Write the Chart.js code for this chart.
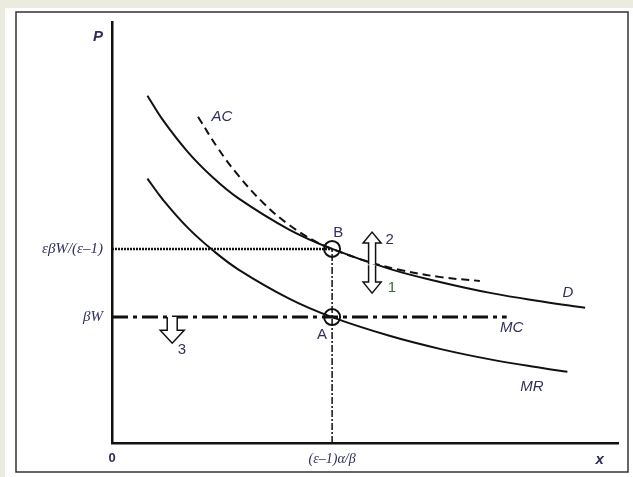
<!DOCTYPE html>
<html lang="en">
<head>
    <meta charset="UTF-8">
    <title>Monopolistic competition</title>
    <script src="https://cdn.jsdelivr.net/npm/chart.js"></script>
    <style>
        body { margin: 0; background: #ebebdf; }
        #wrap { width: 633px; height: 477px; }
    </style>
</head>
<body>
    <div id="wrap">
        <canvas id="chart" width="633" height="477"></canvas>
    </div>

    <script>
        // curves (x 0..100, P 0..100)
        const demandX = [7, 10, 15, 20, 25, 35, 43.5, 55, 65, 75, 85, 93.5];
        const demandY = [82.5, 76.8, 69.1, 63.0, 58.1, 50.7, 46.1, 41.3, 38.2, 35.6, 33.6, 32.1];

        const mrX = [7, 10, 15, 20, 25, 35, 43.5, 55, 65, 75, 85, 90];
        const mrY = [62.8, 57.9, 51.1, 45.7, 41.2, 34.3, 29.9, 25.4, 22.3, 19.8, 17.8, 16.9];

        const acX = [17, 21, 25, 30, 35, 40, 43.5, 50, 57, 65, 72.7];
        const acY = [77.5, 69.9, 63.5, 56.9, 51.8, 48.0, 46.1, 43.3, 41.1, 39.4, 38.5];

        const mcLevel = 29.9;     // βW
        const mcEnd = 78;
        const priceLevel = 46.1;  // εβW/(ε-1)
        const xStar = 43.5;       // (ε-1)α/β

        const xTickVals = [0, xStar, 96.4];
        const xTickLabels = ['0', '(ε\u20131)α/β', 'x'];
        const yTickVals = [mcLevel, priceLevel, 96.4];
        const yTickLabels = ['βW', 'εβW/(ε\u20131)', 'P'];

        // hollow arrows: x, from, to
        const arrowX = [51.4, 51.4, 11.9];
        const arrowFrom = [42.4, 42.2, 29.9];
        const arrowTo = [50.1, 35.6, 23.7];

        const noteText = ['AC', 'B', 'A', '2', '1', '3', 'D', 'MC', 'MR'];
        const noteX = [21.7, 44.7, 41.5, 54.9, 55.3, 13.8, 90.1, 79.0, 83.0];
        const noteY = [77.4, 49.9, 25.6, 48.2, 36.8, 22.1, 35.6, 27.3, 13.3];

        const ink = '#2f2f5c';
        const pts = (xs, ys) => xs.map((x, i) => ({ x: x, y: ys[i] }));

        const frame = {
            id: 'frame',
            beforeDraw(chart) {
                const c = chart.ctx;
                c.save();
                c.fillStyle = '#ebebdf';
                c.fillRect(0, 0, 633, 477);
                c.fillStyle = '#ffffff';
                c.fillRect(5, 8, 628, 469);
                c.strokeStyle = '#333';
                c.lineWidth = 1.5;
                c.strokeRect(16, 12, 612, 460);
                c.restore();
            }
        };

        const arrows = {
            id: 'arrows',
            afterDatasetsDraw(chart) {
                const c = chart.ctx, xs = chart.scales.x, ys = chart.scales.y;
                c.save();
                c.lineWidth = 1.5;
                c.strokeStyle = '#111';
                c.fillStyle = '#fff';
                arrowX.forEach((ax, i) => {
                    const px = xs.getPixelForValue(ax);
                    const y0 = ys.getPixelForValue(arrowFrom[i]);
                    const y1 = ys.getPixelForValue(arrowTo[i]);
                    const d = y1 > y0 ? 1 : -1;
                    const sw = i === 2 ? 5 : 3.5, hw = i === 2 ? 12 : 9, hl = i === 2 ? 13 : 11;
                    c.beginPath();
                    c.moveTo(px - sw, y0);
                    c.lineTo(px - sw, y1 - d * hl);
                    c.lineTo(px - hw, y1 - d * hl);
                    c.lineTo(px, y1);
                    c.lineTo(px + hw, y1 - d * hl);
                    c.lineTo(px + sw, y1 - d * hl);
                    c.lineTo(px + sw, y0);
                    c.fill();
                    c.stroke();
                });
                c.restore();
            },
            afterDraw(chart) {
                const c = chart.ctx, xs = chart.scales.x, ys = chart.scales.y;
                c.save();
                c.textAlign = 'center';
                c.textBaseline = 'middle';
                noteText.forEach((t, i) => {
                    const italic = t.length > 1 || t === 'D';
                    c.font = (italic ? 'italic ' : '') + '15px "Liberation Sans", Arial, sans-serif';
                    c.fillStyle = t === '1' ? '#3d6b2a' : ink;
                    c.fillText(t, xs.getPixelForValue(noteX[i]), ys.getPixelForValue(noteY[i]));
                });
                c.restore();
            }
        };

        new Chart(document.getElementById('chart'), {
            type: 'scatter',
            data: {
                datasets: [
                    { data: pts(demandX, demandY), showLine: true, tension: 0.4,
                      borderColor: '#111', borderWidth: 2, pointRadius: 0 },
                    { data: pts(mrX, mrY), showLine: true, tension: 0.4,
                      borderColor: '#111', borderWidth: 2, pointRadius: 0 },
                    { data: pts(acX, acY), showLine: true, tension: 0.4,
                      borderColor: '#111', borderWidth: 2, borderDash: [8, 5], pointRadius: 0 },
                    { data: [{ x: 0, y: mcLevel }, { x: mcEnd, y: mcLevel }], showLine: true,
                      borderColor: '#111', borderWidth: 3, borderDash: [16, 5, 4, 5], pointRadius: 0 },
                    { data: [{ x: 0, y: priceLevel }, { x: xStar, y: priceLevel }], showLine: true,
                      borderColor: '#111', borderWidth: 2.5, borderDash: [2, 1], pointRadius: 0 },
                    { data: [{ x: xStar, y: 0 }, { x: xStar, y: priceLevel }], showLine: true,
                      borderColor: '#111', borderWidth: 1.5, borderDash: [7, 2, 2, 2], pointRadius: 0 },
                    { data: [{ x: xStar, y: priceLevel }, { x: xStar, y: mcLevel }], showLine: false,
                      pointRadius: 8, pointBackgroundColor: '#fff', pointBorderColor: '#111', pointBorderWidth: 2 }
                ]
            },
            options: {
                responsive: false,
                animation: false,
                layout: { padding: { top: 22, right: 15, left: 0, bottom: 0 } },
                plugins: { legend: { display: false }, tooltip: { enabled: false } },
                scales: {
                    x: {
                        type: 'linear', min: 0, max: 100,
                        grid: { display: false, drawTicks: false },
                        border: { display: true, color: '#111', width: 2.5 },
                        afterBuildTicks: s => { s.ticks = xTickVals.map(v => ({ value: v })); },
                        afterFit: s => { s.height = 34; },
                        ticks: {
                            autoSkip: false, maxRotation: 0, padding: 8, color: ink,
                            callback: (v, i) => xTickLabels[i],
                            font: ctx => ctx.index === 0
                                ? { family: '"Liberation Sans", Arial, sans-serif', size: 13, weight: 'bold' }
                                : ctx.index === 2
                                ? { family: '"Liberation Sans", Arial, sans-serif', size: 15, style: 'italic', weight: 'bold' }
                                : { family: '"Liberation Serif", serif', size: 14, style: 'italic' }
                        }
                    },
                    y: {
                        type: 'linear', min: 0, max: 100,
                        grid: { display: false, drawTicks: false },
                        border: { display: true, color: '#111', width: 2.5 },
                        afterBuildTicks: s => { s.ticks = yTickVals.map(v => ({ value: v })); },
                        afterFit: s => { s.width = 112; },
                        ticks: {
                            autoSkip: false, padding: 9, color: ink,
                            callback: (v, i) => yTickLabels[i],
                            font: ctx => ctx.index === 2
                                ? { family: '"Liberation Sans", Arial, sans-serif', size: 15, style: 'italic', weight: 'bold' }
                                : { family: '"Liberation Serif", serif', size: 15, style: 'italic' }
                        }
                    }
                }
            },
            plugins: [frame, arrows]
        });
    </script>
</body>
</html>
